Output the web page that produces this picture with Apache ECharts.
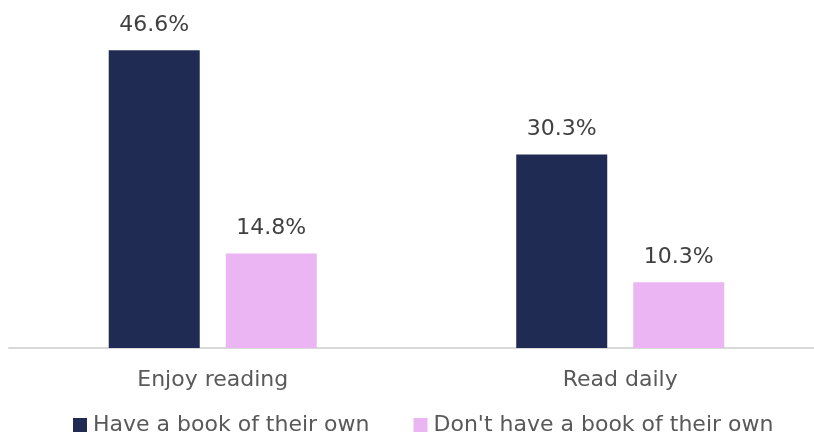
<!DOCTYPE html>
<html><head><meta charset="utf-8">
<script src="https://cdn.jsdelivr.net/npm/echarts@6/dist/echarts.min.js"></script>
<style>html,body{margin:0;padding:0;background:#fff}#c{width:814px;height:441px}</style>
</head><body><div id="c"></div>
<script>
const categories = ["Enjoy reading", "Read daily"];
const seriesNames = ["Have a book of their own", "Don't have a book of their own"];
const haveBook = [46.6, 30.3];
const noBook = [14.8, 10.3];
const colors = ["#1f2b52", "#ebb4f2"];
const FONT = "DejaVu Sans";

const chart = echarts.init(document.getElementById('c'), null, {renderer: 'canvas'});
const mk = (name, data, color) => ({
  name, type: 'bar', data, barWidth: 91, barGap: '28.6%',
  itemStyle: {color},
  label: {show: true, position: 'top', distance: 14, formatter: p => p.value.toFixed(1) + '%',
    color: '#404040', fontSize: 22, fontFamily: FONT}
});
chart.setOption({
  animation: false,
  textStyle: {fontFamily: FONT},
  grid: {left: 9, right: -10, top: 28.5, bottom: 93, containLabel: false, outerBoundsMode: 'none'},
  legend: {
    bottom: 0, left: 68, itemWidth: 14, itemHeight: 14, itemGap: 44,
    icon: 'rect', textStyle: {color: '#595959', fontSize: 22, fontFamily: FONT, padding: [0,0,0,1]},
    data: seriesNames
  },
  xAxis: {
    type: 'category', data: categories,
    axisLine: {lineStyle: {color: '#d9d9d9', width: 2}},
    axisTick: {show: false},
    axisLabel: {color: '#595959', fontSize: 22, fontFamily: FONT, margin: 21}
  },
  yAxis: {type: 'value', min: 0, max: 50, show: false, splitLine: {show: false}},
  series: [mk(seriesNames[0], haveBook, colors[0]), mk(seriesNames[1], noBook, colors[1])]
});
</script></body></html>
